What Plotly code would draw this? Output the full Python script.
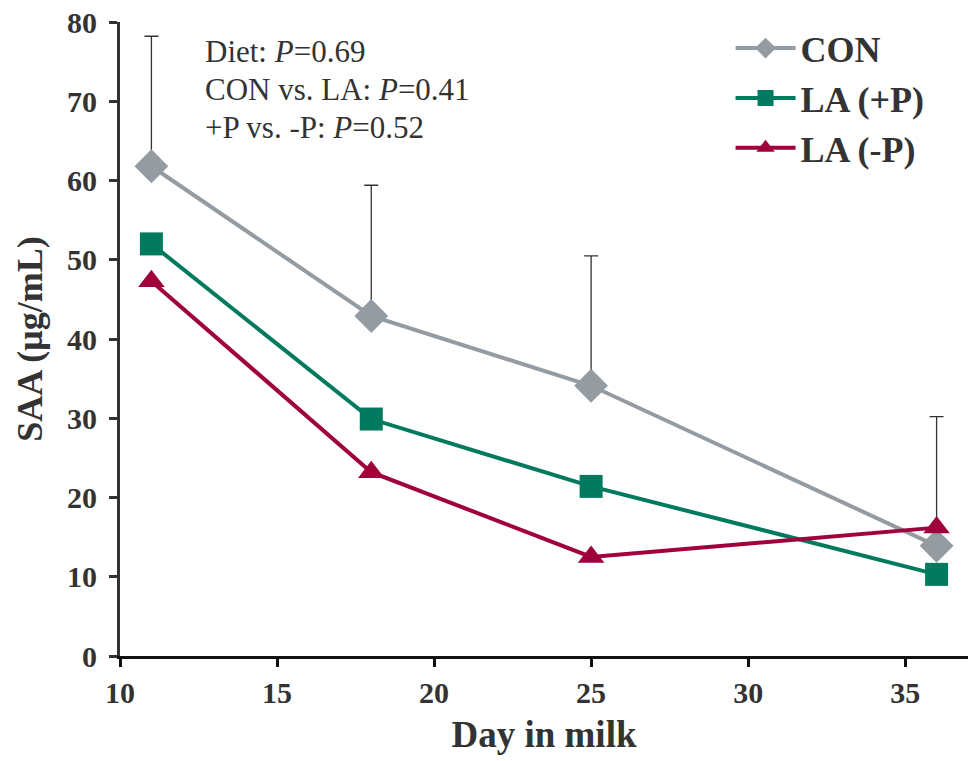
import plotly.graph_objects as go

days = [11, 18, 25, 36]
con = [61.8, 42.9, 34.1, 13.9]
con_err = [16.4, 16.5, 16.4, 16.3]
la_p = [52.0, 29.9, 21.4, 10.3]
la_np = [47.3, 23.2, 12.5, 16.2]
stats_lines = ["Diet: <i>P</i>=0.69", "CON vs. LA: <i>P</i>=0.41", "+P vs. -P: <i>P</i>=0.52"]

FONT = "Liberation Serif"
TXT = "#333333"

fig = go.Figure()
fig.add_trace(go.Scatter(
    x=days, y=con, name="CON", mode="lines+markers",
    line=dict(color="#959ca1", width=4),
    marker=dict(symbol="diamond", size=26, color="#959ca1"),
    error_y=dict(type="data", array=con_err, arrayminus=[0]*4, symmetric=False,
                 color="#333333", thickness=1.3, width=7),
))
fig.add_trace(go.Scatter(
    x=days, y=la_p, name="LA (+P)", mode="lines+markers",
    line=dict(color="#007a5e", width=4),
    marker=dict(symbol="square", size=23, color="#007a5e"),
))
fig.add_trace(go.Scatter(
    x=days, y=la_np, name="LA (-P)", mode="lines+markers",
    line=dict(color="#a0003c", width=4),
    marker=dict(symbol="triangle-up", size=23, color="#a0003c"),
))

annots = []
for i, t in enumerate(stats_lines):
    annots.append(dict(
        x=0.098, y=0.953 - 0.06 * i, xref="paper", yref="paper",
        xanchor="left", yanchor="middle", align="left", showarrow=False,
        text=t, font=dict(family=FONT, size=31, color=TXT),
    ))

fig.update_layout(
    width=974, height=761,
    margin=dict(l=120, r=6, t=22, b=105, autoexpand=False),
    plot_bgcolor="white", paper_bgcolor="white",
    font=dict(family=FONT, color=TXT),
    legend=dict(x=0.72, y=1.006, xanchor="left", yanchor="top",
                font=dict(family=FONT, size=36, color=TXT, weight="bold"),
                bgcolor="rgba(0,0,0,0)", itemwidth=60),
    xaxis=dict(range=[10, 37], tickvals=[10, 15, 20, 25, 30, 35],
               showline=True, linecolor="#111111", linewidth=3,
               ticks="outside", ticklen=8, tickwidth=3, tickcolor="#111111",
               showgrid=False, zeroline=False, ticklabeloverflow="allow",
               tickfont=dict(family=FONT, size=30, color=TXT, weight="bold"),
               title=dict(text="Day in milk", standoff=14,
                          font=dict(family=FONT, size=37, color=TXT, weight="bold"))),
    yaxis=dict(range=[0, 80], tickvals=list(range(0, 81, 10)),
               showline=True, linecolor="#333333", linewidth=3,
               ticks="outside", ticklen=8, tickwidth=3, tickcolor="#333333",
               ticklabelstandoff=6, ticklabeloverflow="allow",
               showgrid=False, zeroline=False,
               tickfont=dict(family=FONT, size=30, color=TXT, weight="bold"),
               title=dict(text="SAA (μg/mL)", standoff=14,
                          font=dict(family=FONT, size=36, color=TXT, weight="bold"))),
    annotations=annots,
)

fig.write_html("out.html", config={"displayModeBar": False},
               post_script="document.body.style.margin='0';")
